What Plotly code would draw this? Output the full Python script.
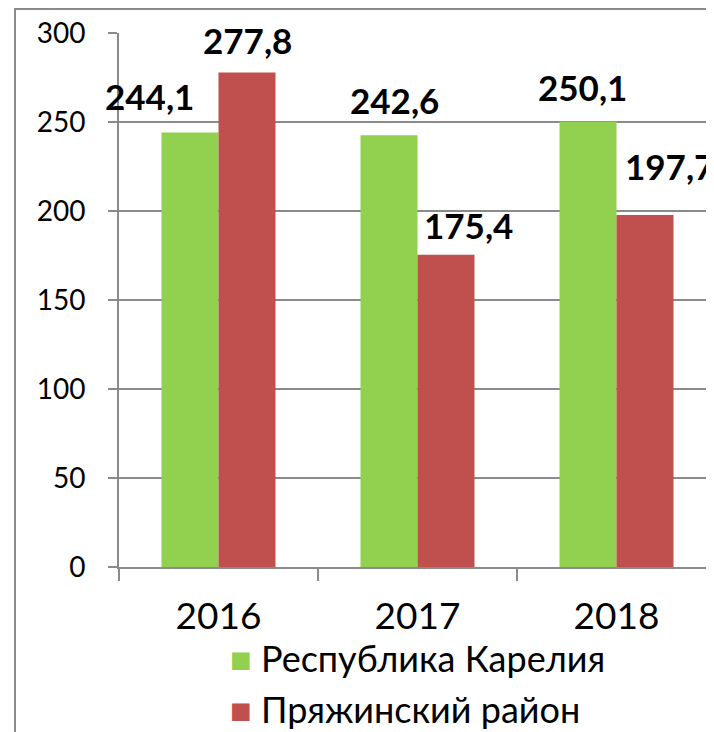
import plotly.graph_objects as go

years = ["2016", "2017", "2018"]
series_names = ["Республика Карелия", "Пряжинский район"]
karelia = [244.1, 242.6, 250.1]
pryazha = [277.8, 175.4, 197.7]
y_ticks = [0, 50, 100, 150, 200, 250, 300]

colors = ["#92d050", "#c0504d"]
GRAY = "#8a8a8a"
FONT = "Lato, 'Noto Sans', sans-serif"

# label placement (pixel offsets relative to bar top-centre)
bar_half = 28.5
label_dx = [[-41, 5.5, -6], [0, 22.5, 24]]
label_dy = [[37, 35, 35], [33, 30, 49]]

def fmt(v):
    return f"{v:.1f}".replace(".", ",")

fig = go.Figure()
for i, (name, vals) in enumerate(zip(series_names, [karelia, pryazha])):
    fig.add_trace(go.Bar(
        x=years, y=vals, name=name,
        marker=dict(color=colors[i], line=dict(width=0)),
        showlegend=False,
    ))

annotations = []
for i, vals in enumerate([karelia, pryazha]):
    sign = -1 if i == 0 else 1
    for j, v in enumerate(vals):
        annotations.append(dict(
            x=j, y=v, xref="x", yref="y",
            text=f"<b>{fmt(v)}</b>", showarrow=False,
            xanchor="center", yanchor="middle",
            xshift=sign * bar_half + label_dx[i][j], yshift=label_dy[i][j],
            font=dict(family=FONT, size=35, color="#000000"),
        ))

legend_y = [-0.170, -0.266]
for i, name in enumerate(series_names):
    annotations.append(dict(
        x=0.183, y=legend_y[i], xref="paper", yref="paper",
        text=f"<span style='color:{colors[i]}'>■</span> {name}",
        showarrow=False, xanchor="left", yanchor="middle",
        font=dict(family=FONT, size=36, color="#000000"),
    ))

fig.update_layout(
    width=714, height=732,
    margin=dict(l=111, r=6, t=25, b=173, pad=0),
    paper_bgcolor="white", plot_bgcolor="white",
    barmode="group", bargap=0.427, bargroupgap=0,
    annotations=annotations,
    shapes=[dict(type="rect", xref="paper", yref="paper",
                 x0=-0.1742, x1=1.5, y0=-0.6, y1=1.045,
                 line=dict(color=GRAY, width=2), layer="below")],
    xaxis=dict(
        type="category", range=[-0.5, 2.5],
        showline=True, linecolor=GRAY, linewidth=2,
        ticks="outside", tickson="boundaries", ticklen=12, tickwidth=2, tickcolor=GRAY,
        tickfont=dict(family=FONT, size=37, color="#000000"),
        ticklabelstandoff=16,
        showgrid=False, zeroline=False,
    ),
    yaxis=dict(
        range=[0, 300], tickvals=y_ticks,
        showline=True, linecolor=GRAY, linewidth=2,
        ticks="outside", ticklen=9, tickwidth=2, tickcolor=GRAY,
        showgrid=True, gridcolor=GRAY, gridwidth=2,
        zeroline=False,
        tickfont=dict(family=FONT, size=28, color="#000000"),
        ticklabelstandoff=17,
    ),
)

fig.write_html("out.html")
